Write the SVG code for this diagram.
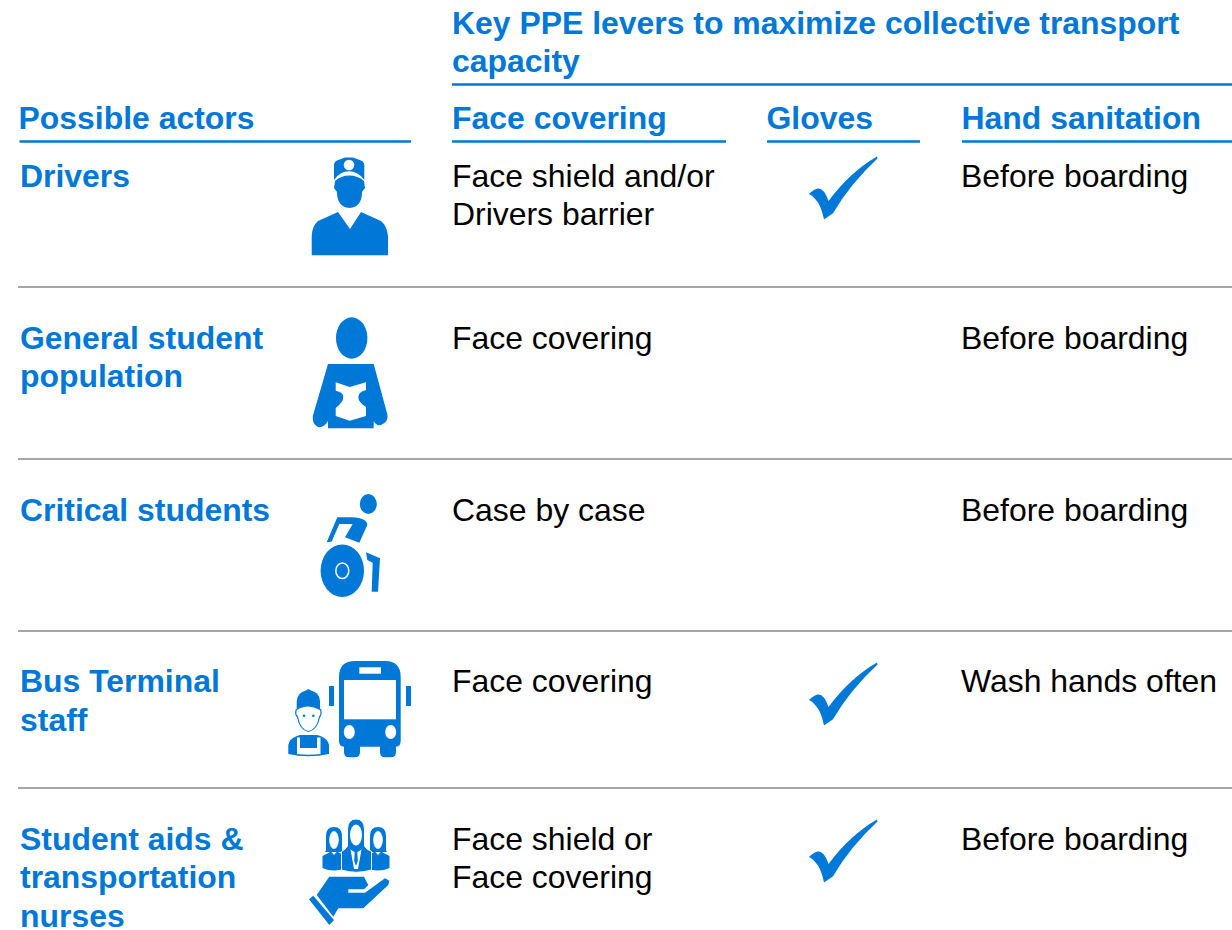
<svg xmlns="http://www.w3.org/2000/svg" xmlns:xlink="http://www.w3.org/1999/xlink" width="1232" height="930" viewBox="0 0 1232 930">
<style>
text{font-family:"Liberation Sans",Arial,sans-serif;font-size:31.93px}
.h{font-weight:700;fill:#0078d7}
.t{fill:#000}
.b{fill:#0078d7}
.w{fill:#fff}
.bl{stroke:#0078d7;stroke-width:2.5;fill:none}
.gl{stroke:#a6a6a6;stroke-width:1.8;fill:none}
</style>
<defs>
<path id="check" class="b" d="M809 194Q814 189 818 188.500Q824 188 828.500 201Q850 172 877 156.500L877.500 158.500Q850 184 833 213.300L824 219.500Q821 205 816 200Q813 195.500 809 194Z"/>
<g id="lady">
<path class="b" d="M-8 10V-4Q-8 -13 0 -13Q8 -13 8 -4V10L9 12H-9Z"/>
<ellipse class="w" cx="0" cy="0" rx="4.800" ry="9"/>
<path class="b" d="M-11.500 16L-3 11.500L0 15L3 11.500L11.500 16V28Q0 33 -11.500 28Z"/>
</g>
</defs>
<rect width="1232" height="930" fill="#fff"/>
<g id="connectors">
<path class="bl" d="M452 84.500H1232M19.500 141.400H411M452 141.400H726M767 141.400H920M962 141.400H1232"/>
<path class="gl" d="M18 287H1232M18 459H1232M18 631H1232M18 788H1232"/>
</g>
<g id="header">
<text class="h" x="452" y="34">Key PPE levers to maximize collective transport</text>
<text class="h" x="452" y="72">capacity</text>
<text class="h" x="18.500" y="129">Possible actors</text>
<text class="h" x="452" y="129">Face covering</text>
<text class="h" x="766.500" y="129">Gloves</text>
<text class="h" x="961.500" y="129">Hand sanitation</text>
</g>
<g id="drivers">
<text class="h" x="20" y="187">Drivers</text>
<g id="icon-driver">
<path class="b" d="M334 180V165Q334 162 337 160.500L345 157.500H353L361 160.500Q364.300 162 364.300 165V180Q358 171.300 349 171.300Q340 171.300 334 180Z"/>
<circle class="w" cx="349" cy="165" r="5.300"/>
<path class="b" d="M335 181Q341 175.500 349 175.500Q358 175.500 364 181L365 188L362 192Q362 207 349.500 208Q337 207 337 192L334 188Z"/>
<path class="b" d="M311.700 255.300V236Q312 226 318 221L338 212L350 229L361 212L381 221Q387 226 388 236V255.300Z"/>
</g>
<text class="t" x="452" y="187">Face shield and/or</text>
<text class="t" x="452" y="225">Drivers barrier</text>
<use xlink:href="#check" href="#check"/>
<text class="t" x="961" y="187">Before boarding</text>
</g>
<g id="general-students">
<text class="h" x="20" y="349">General student</text>
<text class="h" x="20" y="387">population</text>
<g id="icon-student">
<ellipse class="b" cx="351.700" cy="338" rx="15.700" ry="20.700"/>
<path class="b" d="M328 364H373.700L387.500 415Q388.500 422 381 425Q376 426 373.700 421V428.300H328V421Q324 428 318 427Q312 424 312.800 416Z"/>
<path class="w" d="M335.700 382.300L349.700 387L366 382.300V390Q358.300 392 358.300 397Q358.300 402 366 407V416L349.700 420.700L335.700 416V408Q343.300 402 343.300 397Q343.300 392 335.700 390.700Z"/>
</g>
<text class="t" x="452" y="349">Face covering</text>
<text class="t" x="961" y="349">Before boarding</text>
</g>
<g id="critical-students">
<text class="h" x="20" y="521">Critical students</text>
<g id="icon-wheelchair">
<ellipse class="b" cx="368.300" cy="504" rx="8.500" ry="10"/>
<ellipse class="b" cx="342.300" cy="570.700" rx="21.700" ry="26.300"/>
<ellipse cx="342.300" cy="570.700" rx="6.500" ry="7.700" fill="#0078d7" stroke="#fff" stroke-width="1.500"/>
<path class="b" d="M326.700 542.300L337.300 517.300H352Q367 518 367.300 525L359.300 542.700L345 537.300L352.700 524H339.300L331.700 541.500Z"/>
<path class="b" d="M366 552.300L380 558.300L378 591.700H371.700L372.700 562.700L367.300 560Z"/>
</g>
<text class="t" x="452" y="521">Case by case</text>
<text class="t" x="961" y="521">Before boarding</text>
</g>
<g id="terminal-staff">
<text class="h" x="20" y="692">Bus Terminal</text>
<text class="h" x="20" y="731">staff</text>
<g id="icon-bus">
<path class="b" d="M339 677Q339 661 355 661H385Q400.700 661 400.700 677V741Q400.700 746.700 396 746.700V752Q396 757.300 391 757.300H385Q380 757.300 380 752V746.700H360V752Q360 757.300 355 757.300H349Q344 757.300 344 752V746.700Q339 746.700 339 741Z"/>
<rect class="w" x="344" y="680" width="52" height="39.300"/>
<rect class="w" x="359.300" y="667.300" width="21.700" height="6.400"/>
<ellipse class="w" cx="349.300" cy="732" rx="5.500" ry="7"/>
<ellipse class="w" cx="390.700" cy="732" rx="5.500" ry="7"/>
<rect class="b" x="329" y="686" width="5" height="20"/>
<rect class="b" x="406" y="686" width="5" height="20"/>
</g>
<g id="icon-worker">
<path d="M296.500 709Q294.500 714 297.500 717Q300 730 308.300 731.500Q317 730 319.500 717Q322 714 320.500 709" fill="#fff" stroke="#0078d7" stroke-width="1.200"/>
<path class="b" d="M296.700 710V701Q297 693 306 690.500L308.300 689L311 690.500Q320 693 320 701V710Q314 706.500 308.300 706.500Q302 706.500 296.700 710Z"/>
<circle class="b" cx="304" cy="715.700" r="1.300"/>
<circle class="b" cx="313.300" cy="715.700" r="1.300"/>
<path class="b" d="M288.300 754V745Q289 739 297 736L300 735H317L320.500 736Q328 739 329 745V754Q308 758.500 288.300 754Z"/>
<path class="w" d="M297 737.500H300V748H317V737.500H320.500V754Q308 755.500 297 754Z"/>
</g>
<text class="t" x="452" y="692">Face covering</text>
<use xlink:href="#check" href="#check" y="506"/>
<text class="t" x="961" y="692">Wash hands often</text>
</g>
<g id="aids-nurses">
<text class="h" x="20" y="850">Student aids &amp;</text>
<text class="h" x="20" y="888">transportation</text>
<text class="h" x="20" y="927">nurses</text>
<g id="icon-aids">
<use xlink:href="#lady" href="#lady" x="334" y="840"/>
<use xlink:href="#lady" href="#lady" x="378" y="840"/>
<path class="b" d="M347.500 846V829Q348 819 356 819Q364 819 364.500 829V846L367 849L371.500 851.500V870Q356 874.500 341.500 870V851.500L345 849Z" stroke="#fff" stroke-width="1"/>
<ellipse class="w" cx="356" cy="835" rx="6" ry="10.500"/>
<path class="w" d="M350.500 849.500L356 853L361.500 849.500L358 869H354Z"/>
<path class="b" d="M354.700 852H357.300L357.800 861L356 866L354.200 861Z"/>
<path class="b" d="M316.700 895L329.300 876.700H364L368.300 885L364 889.300H348.300V892.700H365L385 878.300L389.300 880.700L388.300 885L363.300 908.300H338.300L333.300 916.700Z"/>
<path class="b" d="M309 899.300L313.300 895.700L334 920L329.300 925Z"/>
</g>
<text class="t" x="452" y="850">Face shield or</text>
<text class="t" x="452" y="888">Face covering</text>
<use xlink:href="#check" href="#check" y="663"/>
<text class="t" x="961" y="850">Before boarding</text>
</g>
</svg>
